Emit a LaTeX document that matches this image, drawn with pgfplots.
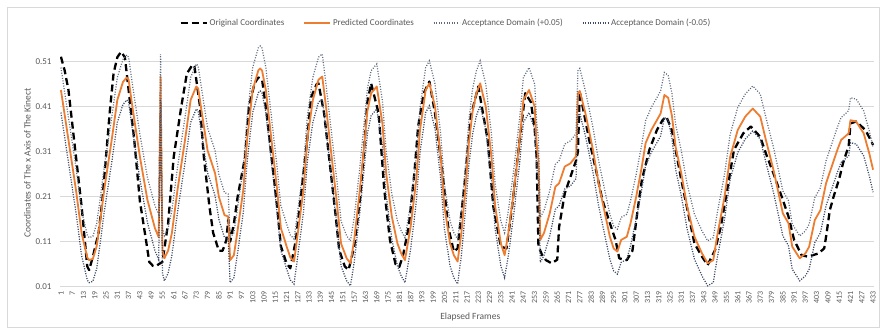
\documentclass[border=0pt]{standalone}
\usepackage{pgfplots}
\pgfplotsset{compat=1.18}
\usepackage{pgfplotstable}
\usepackage{fontspec}
\setmainfont{Carlito}
\definecolor{txt}{HTML}{595959}
\definecolor{gridc}{HTML}{D9D9D9}
\definecolor{orangec}{HTML}{ED7D31}
\definecolor{upc}{HTML}{5F6B7D}
\definecolor{loc}{HTML}{3B4A66}

\pgfplotstableread{
f v
1 0.521
3 0.490
5 0.447
9 0.299
12 0.188
14 0.100
15 0.055
16 0.047
18 0.077
21 0.129
23 0.200
25 0.300
27 0.400
29 0.484
31 0.520
33 0.532
35 0.520
36 0.484
40 0.336
43 0.200
46 0.120
48 0.065
50 0.056
52 0.057
53 0.060
55 0.065
58 0.151
61 0.299
65 0.410
68 0.484
71 0.503
72 0.500
75 0.410
77 0.299
80 0.188
82 0.129
85 0.090
87 0.090
89 0.114
90 0.160
91 0.110
93 0.150
95 0.210
99 0.299
101 0.410
104 0.462
106 0.475
108 0.470
110 0.410
113 0.299
116 0.188
118 0.100
121 0.062
123 0.051
126 0.114
129 0.225
132 0.336
134 0.430
137 0.460
138 0.462
141 0.395
144 0.284
147 0.173
149 0.092
152 0.055
154 0.047
157 0.099
160 0.203
162 0.300
164 0.420
166 0.462
170 0.395
173 0.225
176 0.114
179 0.060
181 0.054
183 0.080
186 0.143
189 0.262
191 0.366
194 0.440
197 0.466
200 0.395
204 0.262
207 0.143
210 0.088
212 0.095
214 0.173
216 0.250
219 0.388
223 0.455
228 0.336
231 0.188
235 0.099
238 0.095
241 0.188
245 0.336
248 0.440
251 0.420
253 0.360
254 0.300
255 0.100
257 0.080
259 0.069
262 0.062
265 0.070
266 0.143
269 0.217
272 0.254
275 0.290
276 0.310
277 0.443
282 0.336
286 0.262
289 0.203
293 0.151
296 0.114
298 0.073
302 0.069
305 0.090
308 0.188
310 0.247
314 0.314
318 0.358
321 0.380
323 0.388
326 0.358
331 0.247
335 0.166
338 0.106
342 0.077
345 0.058
349 0.092
352 0.143
356 0.240
359 0.314
364 0.351
368 0.366
373 0.343
376 0.306
380 0.262
385 0.203
388 0.166
391 0.114
395 0.080
398 0.077
401 0.080
404 0.084
407 0.095
408 0.121
410 0.180
412 0.210
415 0.250
417 0.284
419 0.310
420 0.321
421 0.373
424 0.377
429 0.358
433 0.325
}\orig

\pgfplotstableread{
f p up lo
1 0.447 0.497 0.397
5 0.336 0.386 0.286
9 0.225 0.275 0.175
12 0.129 0.179 0.079
15 0.075 0.125 0.025
16 0.069 0.119 0.019
18 0.072 0.122 0.022
20 0.100 0.150 0.050
22 0.160 0.210 0.110
24 0.225 0.275 0.175
28 0.336 0.386 0.286
31 0.425 0.475 0.375
34 0.465 0.515 0.415
36 0.475 0.525 0.425
37 0.470 0.520 0.420
39 0.410 0.460 0.360
43 0.299 0.349 0.249
47 0.203 0.253 0.153
51 0.140 0.190 0.090
53 0.120 0.170 0.070
54 0.477 0.527 0.427
55 0.090 0.140 0.040
56 0.073 0.123 0.023
58 0.090 0.140 0.040
60 0.129 0.179 0.079
63 0.225 0.275 0.175
67 0.336 0.386 0.286
70 0.425 0.475 0.375
73 0.455 0.505 0.405
74 0.450 0.500 0.400
76 0.395 0.445 0.345
79 0.313 0.363 0.263
83 0.262 0.312 0.212
85 0.210 0.260 0.160
88 0.169 0.219 0.119
90 0.166 0.216 0.116
91 0.069 0.119 0.019
93 0.080 0.130 0.030
95 0.136 0.186 0.086
98 0.225 0.275 0.175
100 0.336 0.386 0.286
103 0.447 0.497 0.397
106 0.491 0.541 0.441
107 0.495 0.545 0.445
108 0.490 0.540 0.440
110 0.447 0.497 0.397
113 0.336 0.386 0.286
116 0.225 0.275 0.175
118 0.140 0.190 0.090
120 0.114 0.164 0.064
121 0.100 0.150 0.050
123 0.075 0.125 0.025
125 0.066 0.116 0.016
127 0.129 0.179 0.079
130 0.225 0.275 0.175
132 0.336 0.386 0.286
135 0.425 0.475 0.375
138 0.470 0.520 0.420
140 0.477 0.527 0.427
142 0.410 0.460 0.360
145 0.299 0.349 0.249
148 0.188 0.238 0.138
150 0.106 0.156 0.056
153 0.073 0.123 0.023
155 0.062 0.112 0.012
157 0.114 0.164 0.064
160 0.225 0.275 0.175
162 0.310 0.360 0.260
164 0.400 0.450 0.350
166 0.440 0.490 0.390
169 0.455 0.505 0.405
172 0.373 0.423 0.323
174 0.262 0.312 0.212
177 0.166 0.216 0.116
180 0.106 0.156 0.056
182 0.084 0.134 0.034
184 0.069 0.119 0.019
187 0.143 0.193 0.093
190 0.247 0.297 0.197
192 0.358 0.408 0.308
195 0.447 0.497 0.397
197 0.462 0.512 0.412
200 0.410 0.460 0.360
203 0.299 0.349 0.249
205 0.188 0.238 0.138
208 0.106 0.156 0.056
210 0.080 0.130 0.030
212 0.066 0.116 0.016
214 0.129 0.179 0.079
216 0.220 0.270 0.170
218 0.330 0.380 0.280
220 0.400 0.450 0.350
222 0.440 0.490 0.390
224 0.462 0.512 0.412
227 0.410 0.460 0.360
230 0.299 0.349 0.249
232 0.188 0.238 0.138
235 0.106 0.156 0.056
237 0.080 0.130 0.030
239 0.129 0.179 0.079
242 0.225 0.275 0.175
245 0.336 0.386 0.286
247 0.425 0.475 0.375
250 0.447 0.497 0.397
253 0.410 0.460 0.360
254 0.330 0.380 0.280
255 0.290 0.340 0.240
256 0.114 0.164 0.064
258 0.130 0.180 0.080
261 0.173 0.223 0.123
264 0.232 0.282 0.182
266 0.240 0.290 0.190
269 0.277 0.327 0.227
272 0.284 0.334 0.234
275 0.300 0.350 0.250
276 0.440 0.490 0.390
277 0.445 0.495 0.395
280 0.395 0.445 0.345
284 0.314 0.364 0.264
287 0.240 0.290 0.190
290 0.180 0.230 0.130
293 0.121 0.171 0.071
295 0.095 0.145 0.045
297 0.088 0.138 0.038
299 0.114 0.164 0.064
302 0.121 0.171 0.071
304 0.151 0.201 0.101
307 0.210 0.260 0.160
310 0.277 0.327 0.227
312 0.329 0.379 0.279
315 0.358 0.408 0.308
318 0.380 0.430 0.330
320 0.395 0.445 0.345
322 0.436 0.486 0.386
324 0.430 0.480 0.380
326 0.390 0.440 0.340
328 0.320 0.370 0.270
331 0.262 0.312 0.212
334 0.190 0.240 0.140
338 0.121 0.171 0.071
342 0.084 0.134 0.034
345 0.062 0.112 0.012
348 0.069 0.119 0.019
350 0.121 0.171 0.071
354 0.210 0.260 0.160
357 0.299 0.349 0.249
361 0.358 0.408 0.308
365 0.388 0.438 0.338
369 0.406 0.456 0.356
373 0.388 0.438 0.338
376 0.336 0.386 0.286
380 0.270 0.320 0.220
382 0.232 0.282 0.182
385 0.173 0.223 0.123
388 0.151 0.201 0.101
390 0.099 0.149 0.049
394 0.073 0.123 0.023
397 0.084 0.134 0.034
399 0.099 0.149 0.049
402 0.158 0.208 0.108
405 0.180 0.230 0.130
408 0.240 0.290 0.190
411 0.277 0.327 0.227
414 0.314 0.364 0.264
416 0.336 0.386 0.286
419 0.347 0.397 0.297
420 0.351 0.401 0.301
421 0.380 0.430 0.330
424 0.377 0.427 0.327
428 0.351 0.401 0.301
431 0.306 0.356 0.256
433 0.270 0.320 0.220
}\pred

\begin{document}
\begin{tikzpicture}
\path[use as bounding box] (0,0) rectangle (880pt,331pt);
\draw[gridc, line width=0.8pt] (7pt,4pt) rectangle (879pt,324pt);
\begin{axis}[
  at={(60pt,44.3pt)}, anchor=south west,
  scale only axis, width=814pt, height=247.5pt,
  xmin=0.5, xmax=433.5, ymin=0.01, ymax=0.56,
  axis line style={draw=none},
  major tick length=0pt,
  ymajorgrids, grid style={gridc, line width=0.8pt},
  ytick={0.01,0.11,0.21,0.31,0.41,0.51},
  yticklabels={0.01,0.11,0.21,0.31,0.41,0.51},
  xtick={1,7,...,433},
  /pgf/number format/assume math mode=true,
  /pgf/number format/1000 sep={},
  yticklabel style={font=\fontsize{9}{10}\selectfont, text=txt, xshift=-5pt},
  xticklabel style={font=\fontsize{8}{9}\selectfont, text=txt, rotate=90, anchor=east, yshift=0pt, xshift=-1pt},
  xlabel={Elapsed Frames},
  ylabel={Coordinates of The x Axis of The Kinect},
  xlabel style={font=\fontsize{9.5}{11}\selectfont, text=txt, at={(axis description cs:0.504,-0.122)}, anchor=center},
  ylabel style={font=\fontsize{9.5}{11}\selectfont, text=txt, at={(axis description cs:-0.04,0.5)}, anchor=center},
  legend columns=4,
  legend style={at={(axis description cs:0.474,1.065)}, anchor=center, draw=none, fill=none,
    font=\fontsize{9}{10}\selectfont, text=txt,
    /tikz/every even column/.append style={column sep=17pt}},
  legend image code/.code={\draw[#1] (0pt,0pt) -- (26pt,0pt);},
]
\addplot[black, line width=2.3pt, dash pattern=on 7pt off 4pt, line join=round] table[x=f, y=v] {\orig};
\addlegendentry{Original Coordinates}
\addplot[orangec, line width=1.8pt, line join=round] table[x=f, y=p] {\pred};
\addlegendentry{Predicted Coordinates}
\addplot[upc, line width=1.25pt, dash pattern=on 1pt off 1.6pt] table[x=f, y=up] {\pred};
\addlegendentry{Acceptance Domain (+0.05)}
\addplot[loc, line width=1.25pt, dash pattern=on 1.1pt off 1.4pt] table[x=f, y=lo] {\pred};
\addlegendentry{Acceptance Domain (-0.05)}
\end{axis}
\end{tikzpicture}
\end{document}
